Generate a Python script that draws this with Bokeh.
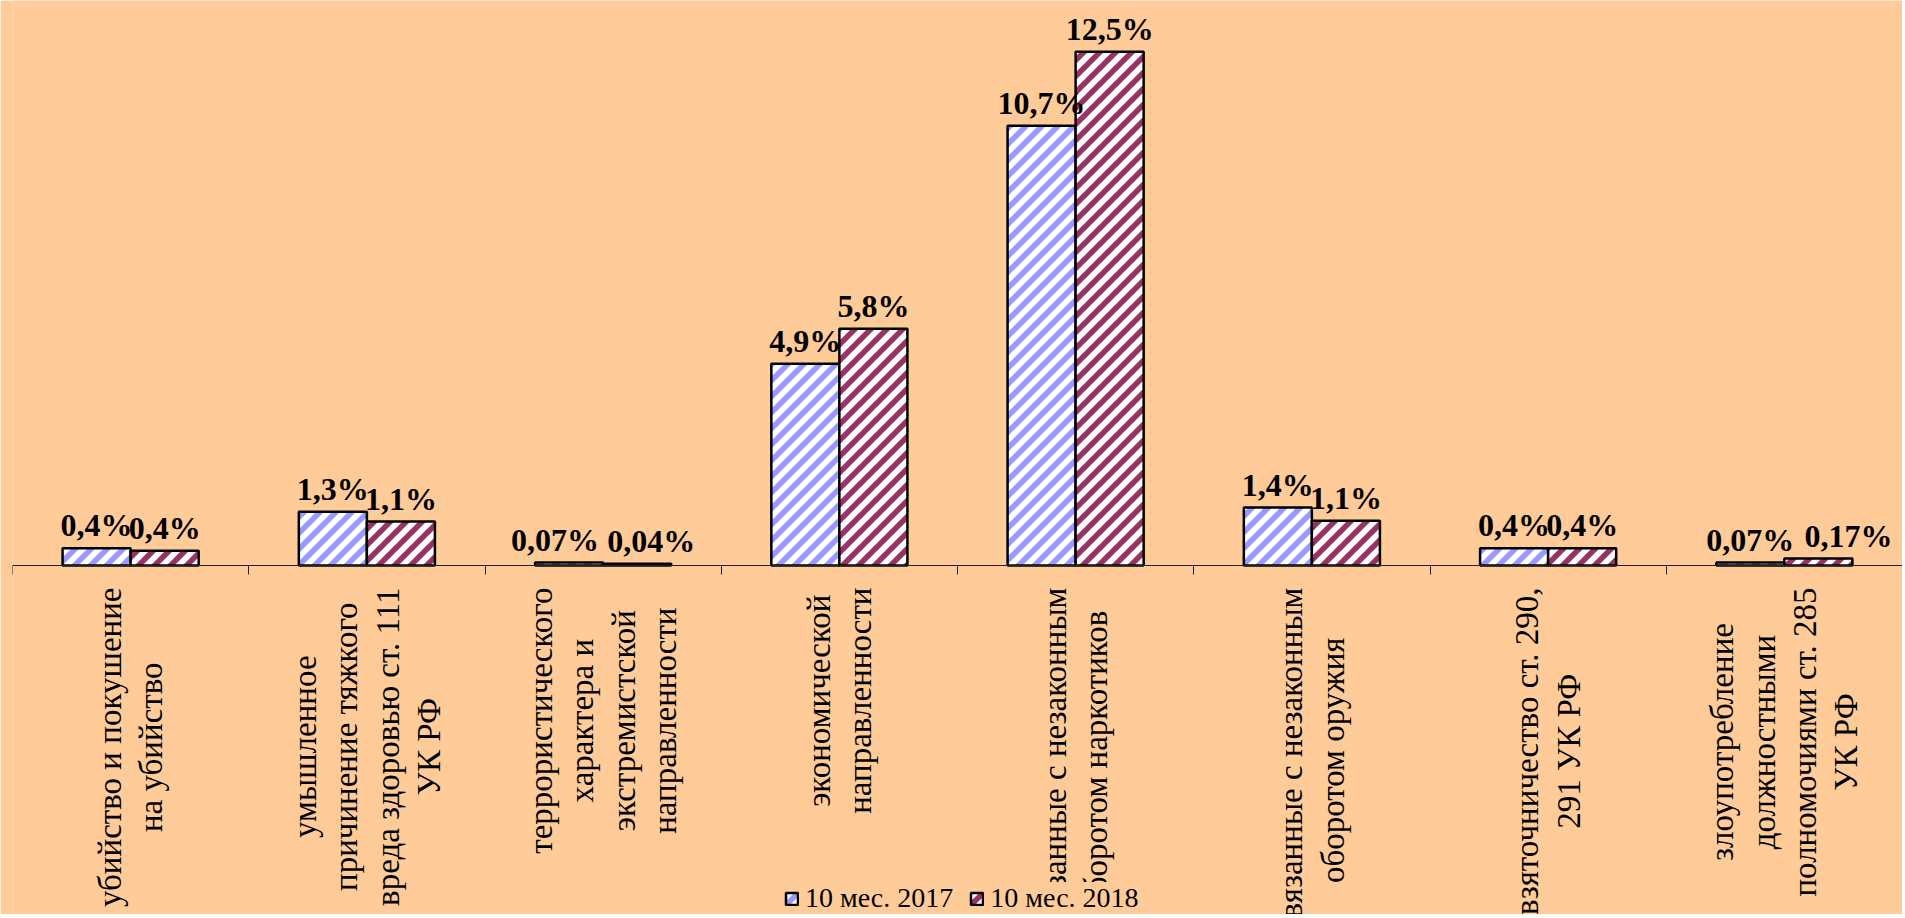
import base64
import numpy as np
from bokeh.plotting import figure
from bokeh.models import (ColumnDataSource, Range1d, FixedTicker, Legend, LegendItem,
                          ImageURLTexture)
from bokeh.core.properties import value
from bokeh.embed import file_html
from bokeh.resources import INLINE

# ---------------- data ----------------
categories = [
    "убийство и покушение\nна убийство",
    "умышленное\nпричинение тяжкого\nвреда здоровью ст. 111\nУК РФ",
    "террористического\nхарактера и\nэкстремистской\nнаправленности",
    "экономической\nнаправленности",
    "связанные с незаконным\nоборотом наркотиков",
    "связанные с незаконным\nоборотом оружия",
    "взяточничество ст. 290,\n291 УК РФ",
    "злоупотребление\nдолжностными\nполномочиями ст. 285\nУК РФ",
]
series_names = ["10 мес. 2017", "10 мес. 2018"]
values_2017 = [0.42, 1.31, 0.07, 4.91, 10.7, 1.41, 0.42, 0.07]
values_2018 = [0.36, 1.07, 0.04, 5.76, 12.5, 1.09, 0.42, 0.17]
labels_2017 = ["0,4%", "1,3%", "0,07%", "4,9%", "10,7%", "1,4%", "0,4%", "0,07%"]
labels_2018 = ["0,4%", "1,1%", "0,04%", "5,8%", "12,5%", "1,1%", "0,4%", "0,17%"]

# ---------------- style ----------------
BG = "#FFCC99"
BLUE = "#9999FF"
PLUM = "#993366"
FONT = "Liberation Serif"
W, H = 1902, 914
BASE_Y = 565          # pixel row of the zero line
PX_PER_UNIT = 41.1
BAR_W = 0.288
# small manual nudges (px) of a few value labels, as in the original chart
NUDGE_2017 = [0, 0, -14, 0, 0, 0, 0, 0]
NUDGE_2018 = [0, 0, 14, 0, 0, 0, 0, 30]


def stripe_texture(color, size=16, width=5.5):
    s = size
    svg = (f"<svg xmlns='http://www.w3.org/2000/svg' width='{s}' height='{s}'>"
           f"<rect width='{s}' height='{s}' fill='white'/>"
           f"<path d='M{-s/2},{s/2} L{s/2},{-s/2} M0,{s} L{s},0 M{s/2},{1.5*s} L{1.5*s},{s/2}' "
           f"stroke='{color}' stroke-width='{width}'/></svg>")
    url = "data:image/svg+xml;base64," + base64.b64encode(svg.encode()).decode()
    return ImageURLTexture(url=url, repetition="repeat")


n = len(categories)
idx = np.arange(n)

src17 = ColumnDataSource(dict(x=idx + 0.5 - BAR_W / 2, top=values_2017,
                              label=labels_2017, dx=NUDGE_2017))
src18 = ColumnDataSource(dict(x=idx + 0.5 + BAR_W / 2, top=values_2018,
                              label=labels_2018, dx=NUDGE_2018))
cat_src = ColumnDataSource(dict(x=idx + 0.5, y=np.zeros(n), text=categories))

p = figure(width=W, height=H, output_backend="svg", toolbar_location=None,
           x_range=Range1d(0, n),
           y_range=Range1d(-(H - BASE_Y) / PX_PER_UNIT, BASE_Y / PX_PER_UNIT),
           x_axis_location="above", y_axis_location=None,
           min_border_left=12, min_border_right=0, min_border_top=0,
           min_border_bottom=0,
           background_fill_color=BG, border_fill_color=BG, outline_line_color=None)
p.grid.visible = False
ax = p.xaxis[0]
ax.fixed_location = 0
ax.ticker = FixedTicker(ticks=list(range(n + 1)))
ax.major_label_overrides = {i: "" for i in range(n + 1)}
ax.major_label_text_font_size = "1px"
ax.major_label_standoff = 0
ax.major_tick_in = 9
ax.major_tick_out = 0
ax.minor_tick_line_color = None
ax.axis_line_color = "#222222"
ax.major_tick_line_color = "#222222"

bar_kw = dict(width=BAR_W, bottom=0, fill_color="white", line_color="black",
              line_width=2.5)
r17 = p.vbar(x="x", top="top", source=src17, hatch_pattern=value("stripes17"),
             hatch_extra={"stripes17": stripe_texture(BLUE)}, **bar_kw)
r18 = p.vbar(x="x", top="top", source=src18, hatch_pattern=value("stripes18"),
             hatch_extra={"stripes18": stripe_texture(PLUM)}, **bar_kw)

for src in (src17, src18):
    p.text(x="x", y="top", text="label", source=src, x_offset="dx",
           text_font=value(FONT), text_font_style="bold", text_font_size="32px",
           text_align="center", text_baseline="alphabetic", y_offset=-23,
           text_color="black")

p.text(x="x", y="y", text="text", source=cat_src, angle=np.pi / 2,
       anchor=value("center_right"), text_align="center", text_baseline="middle",
       y_offset=22, text_font=value(FONT), text_font_size="33px",
       text_line_height=1.15, text_color="black", level="guide")

legend = Legend(items=[LegendItem(label=series_names[0], renderers=[r17]),
                       LegendItem(label=series_names[1], renderers=[r18])],
                orientation="horizontal", location=(772, 0),
                label_text_font=FONT, label_text_font_size="28px",
                label_text_color="black",
                glyph_width=15, glyph_height=15, label_standoff=6, spacing=16,
                padding=8, margin=0, border_line_color=None,
                background_fill_color=BG, background_fill_alpha=1.0)
p.add_layout(legend)

open("out.html", "w", encoding="utf-8").write(file_html(p, INLINE))
